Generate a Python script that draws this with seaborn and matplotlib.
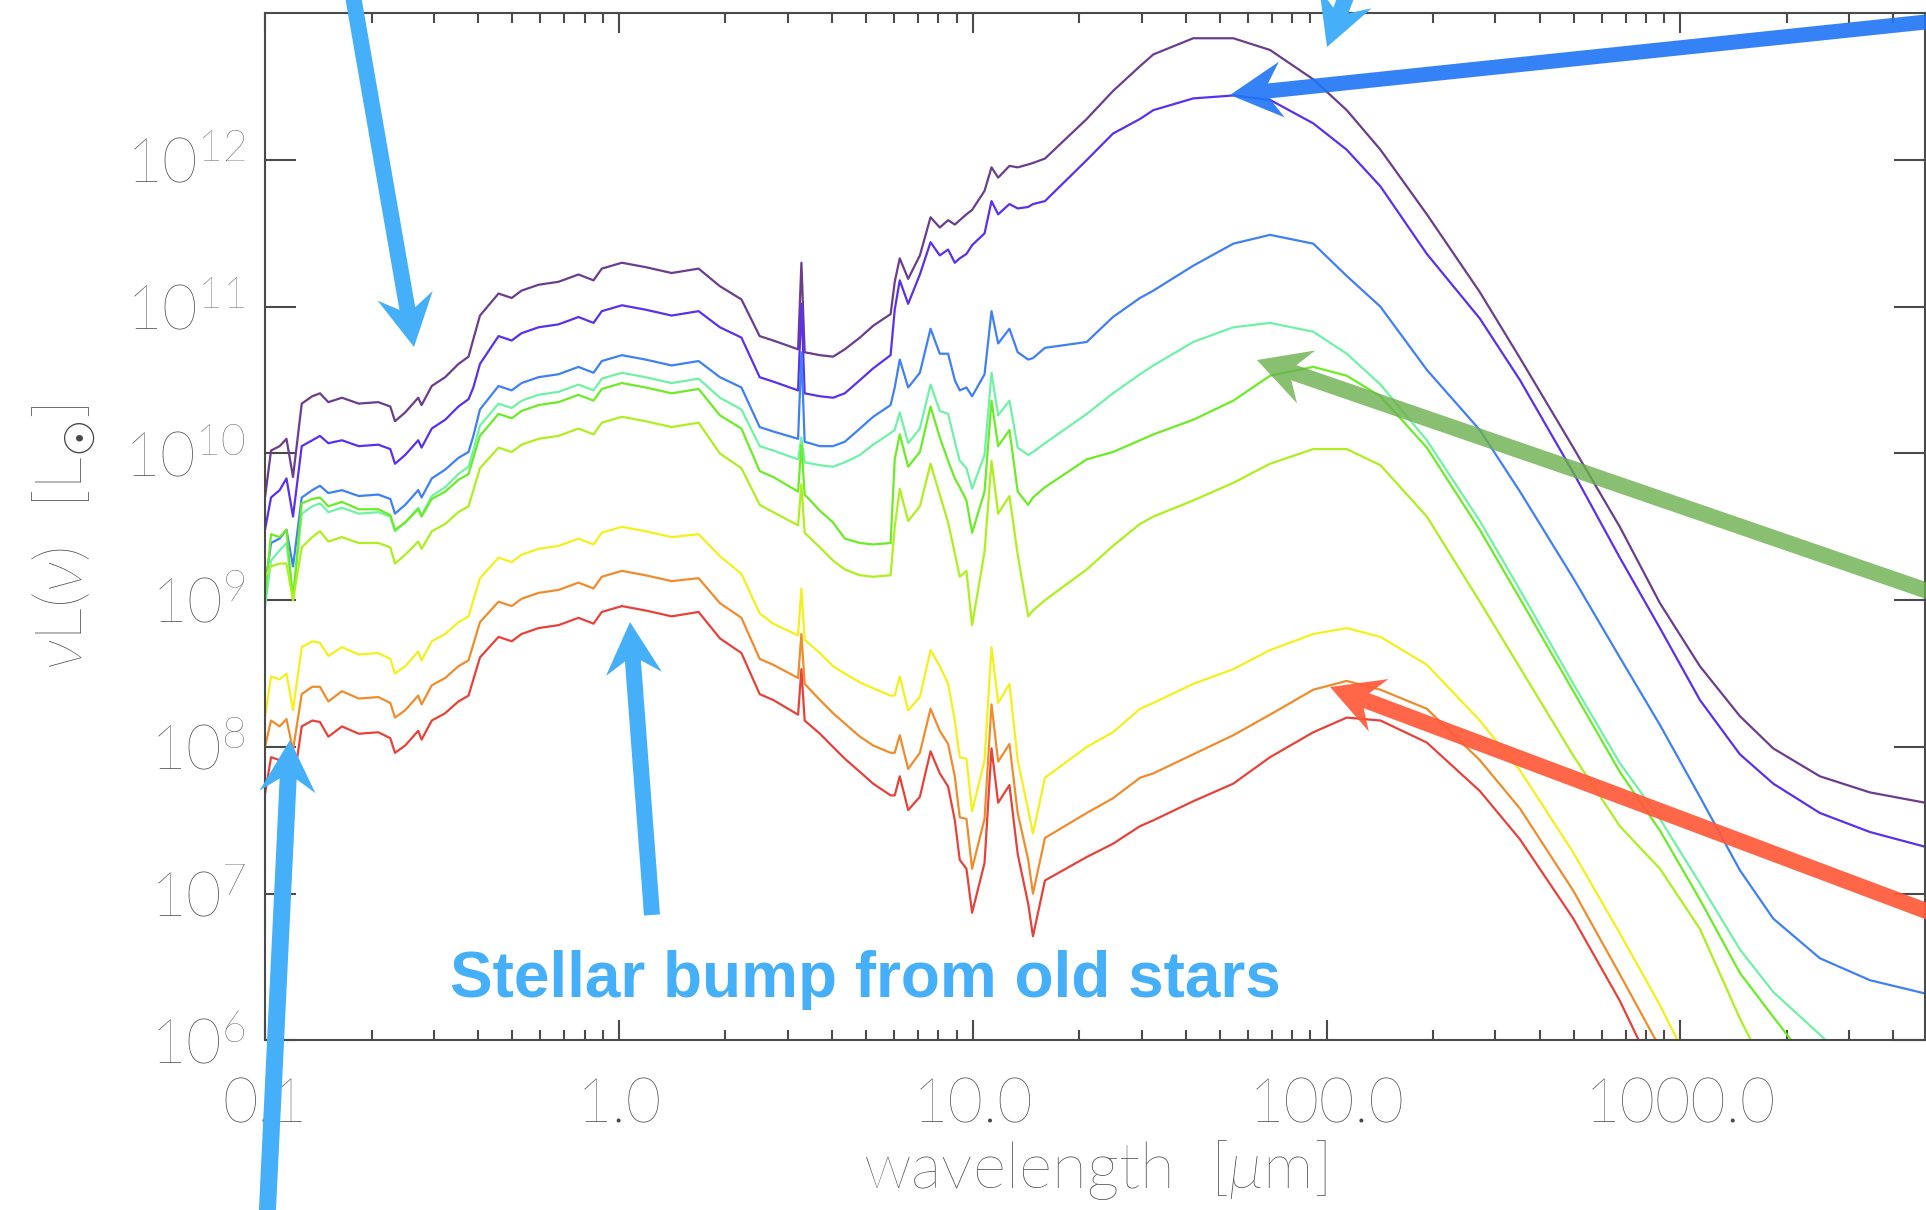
import matplotlib
matplotlib.use("Agg")
import matplotlib.pyplot as plt
import matplotlib.ticker as mticker
from matplotlib.patches import FancyArrow
from matplotlib.transforms import Affine2D
import numpy as np
import pandas as pd
import seaborn as sns

# ---------------------------------------------------------------- data
WAVELENGTH_UM = [
    0.100, 0.104, 0.110, 0.115, 0.120, 0.127, 0.136, 0.143, 0.151,
    0.165, 0.184, 0.209, 0.226, 0.233, 0.249, 0.271, 0.277, 0.296, 0.323,
    0.352, 0.376, 0.388, 0.405, 0.457, 0.498, 0.531, 0.593, 0.675, 0.769,
    0.848, 0.895, 1.02, 1.19, 1.41, 1.68,
    1.93, 2.22, 2.50, 2.73, 3.21, 3.28, 3.35, 3.70, 4.03, 4.35,
    4.80, 5.23, 5.86, 6.02, 6.22, 6.57, 7.09, 7.60, 8.07, 8.52,
    8.90, 9.19, 9.60, 9.96, 10.8, 11.3, 11.8, 12.7, 13.4, 14.35,
    14.8, 16.0, 21.0,
    24.9, 29.7, 32.4, 42.0, 54.5, 69.2, 91.7, 114, 142, 192,
    271, 352, 498, 674, 875, 1135, 1472, 1829, 2477, 3433, 4910,
]

# log10( nu L_nu / L_sun ) for each model SED
LOGL_PURPLE = [
    9.70, 10.02, 10.05, 10.10, 9.84, 10.34, 10.39, 10.41, 10.35,
    10.38, 10.34, 10.35, 10.32, 10.22, 10.28, 10.38, 10.33, 10.46, 10.52,
    10.61, 10.66, 10.78, 10.94, 11.09, 11.06, 11.11, 11.15, 11.17, 11.22,
    11.18, 11.26, 11.30, 11.27, 11.23, 11.26,
    11.14, 11.05, 10.80, 10.77, 10.71, 11.30, 10.69, 10.67, 10.66, 10.71,
    10.79, 10.87, 10.95, 11.17, 11.33, 11.19, 11.35, 11.61, 11.54, 11.59,
    11.56, 11.59, 11.63, 11.66, 11.79, 11.95, 11.88, 11.96, 11.95, 11.97,
    11.98, 12.01, 12.28,
    12.47, 12.64, 12.72, 12.83, 12.83, 12.75, 12.55, 12.34, 12.07, 11.63,
    11.10, 10.65, 10.04, 9.50, 8.98, 8.55, 8.21, 7.99, 7.80, 7.69, 7.62,
]
LOGL_VIOLET = [
    9.48, 9.70, 9.75, 9.83, 9.57, 10.05, 10.09, 10.12, 10.07,
    10.09, 10.05, 10.06, 10.03, 9.93, 9.99, 10.09, 10.04, 10.17, 10.23,
    10.32, 10.37, 10.45, 10.61, 10.80, 10.77, 10.82, 10.86, 10.88, 10.93,
    10.89, 10.97, 11.01, 10.98, 10.94, 10.97,
    10.86, 10.79, 10.52, 10.49, 10.43, 11.02, 10.41, 10.39, 10.38, 10.41,
    10.50, 10.58, 10.67, 10.98, 11.18, 11.02, 11.22, 11.44, 11.35, 11.39,
    11.30, 11.33, 11.36, 11.42, 11.50, 11.72, 11.63, 11.70, 11.67, 11.68,
    11.70, 11.72, 12.00,
    12.18, 12.28, 12.34, 12.42, 12.44, 12.41, 12.25, 12.07, 11.82, 11.36,
    10.92, 10.50, 9.87, 9.29, 8.81, 8.32, 7.95, 7.75, 7.55, 7.42, 7.32,
]
LOGL_BLUE = [
    9.09, 9.39, 9.42, 9.48, 9.23, 9.70, 9.75, 9.78, 9.73,
    9.75, 9.71, 9.72, 9.69, 9.59, 9.65, 9.75, 9.70, 9.83, 9.89,
    9.97, 10.01, 10.12, 10.30, 10.46, 10.43, 10.48, 10.52, 10.54, 10.59,
    10.55, 10.63, 10.67, 10.64, 10.60, 10.63,
    10.52, 10.45, 10.18, 10.15, 10.10, 10.69, 10.08, 10.05, 10.05, 10.08,
    10.17, 10.25, 10.33, 10.45, 10.64, 10.45, 10.55, 10.85, 10.68, 10.68,
    10.50, 10.43, 10.45, 10.39, 10.54, 10.97, 10.75, 10.85, 10.69, 10.64,
    10.65, 10.72, 10.76,
    10.93, 11.06, 11.11, 11.28, 11.43, 11.49, 11.43, 11.21, 11.00, 10.57,
    10.16, 9.74, 9.15, 8.61, 8.15, 7.66, 7.16, 6.83, 6.56, 6.41, 6.32,
]
LOGL_AQUA = [
    8.95, 9.27, 9.34, 9.39, 9.02, 9.59, 9.64, 9.66, 9.60,
    9.63, 9.59, 9.60, 9.57, 9.47, 9.53, 9.63, 9.58, 9.71, 9.77,
    9.86, 9.91, 10.02, 10.19, 10.34, 10.31, 10.36, 10.40, 10.42, 10.47,
    10.43, 10.51, 10.55, 10.52, 10.48, 10.51,
    10.38, 10.30, 10.05, 10.02, 9.96, 10.11, 9.94, 9.92, 9.91, 9.94,
    9.99, 10.06, 10.14, 10.16, 10.28, 10.07, 10.17, 10.47, 10.29, 10.27,
    10.08, 9.95, 9.90, 9.76, 9.99, 10.55, 10.26, 10.36, 10.04, 9.99,
    10.01, 10.07, 10.27,
    10.41, 10.54, 10.60, 10.76, 10.86, 10.89, 10.83, 10.68, 10.47, 10.09,
    9.54, 9.07, 8.43, 7.89, 7.51, 7.07, 6.62, 6.33, 6.04, 5.70, 5.40,
]
LOGL_GREEN = [
    9.02, 9.45, 9.43, 9.48, 9.00, 9.66, 9.69, 9.70, 9.64,
    9.67, 9.62, 9.62, 9.58, 9.48, 9.53, 9.62, 9.57, 9.69, 9.74,
    9.82, 9.86, 9.97, 10.12, 10.27, 10.24, 10.29, 10.33, 10.35, 10.40,
    10.36, 10.44, 10.48, 10.45, 10.41, 10.44,
    10.26, 10.17, 9.88, 9.84, 9.74, 10.06, 9.72, 9.61, 9.53, 9.42,
    9.39, 9.38, 9.39, 9.96, 10.13, 9.91, 10.01, 10.32, 10.11, 9.95,
    9.83, 9.77, 9.68, 9.46, 9.74, 10.36, 10.05, 10.16, 9.74, 9.65,
    9.70, 9.77, 9.96,
    10.01, 10.09, 10.13, 10.23, 10.36, 10.53, 10.59, 10.53, 10.39, 10.04,
    9.48, 9.01, 8.38, 7.83, 7.43, 6.96, 6.46, 6.16, 5.75, 5.40, 5.10,
]
LOGL_LIME = [
    9.16, 9.23, 9.25, 9.25, 9.00, 9.36, 9.43, 9.47, 9.40,
    9.43, 9.39, 9.39, 9.36, 9.25, 9.31, 9.40, 9.35, 9.47, 9.52,
    9.60, 9.64, 9.75, 9.90, 10.04, 10.01, 10.06, 10.10, 10.12, 10.17,
    10.13, 10.21, 10.25, 10.22, 10.18, 10.21,
    10.00, 9.90, 9.65, 9.60, 9.51, 9.79, 9.46, 9.36, 9.27, 9.21,
    9.17, 9.16, 9.17, 9.50, 9.76, 9.54, 9.64, 9.93, 9.72, 9.53,
    9.32, 9.16, 9.20, 8.83, 9.33, 9.95, 9.59, 9.71, 9.31, 8.89,
    8.93, 9.00, 9.21,
    9.37, 9.52, 9.57, 9.68, 9.80, 9.93, 10.03, 10.03, 9.92, 9.57,
    8.99, 8.54, 7.94, 7.46, 7.17, 6.76, 6.15, 5.70, 5.20, 4.80, 4.50,
]
LOGL_YELLOW = [
    8.20, 8.48, 8.46, 8.50, 8.25, 8.68, 8.72, 8.71, 8.62,
    8.68, 8.63, 8.64, 8.60, 8.50, 8.55, 8.65, 8.59, 8.72, 8.77,
    8.85, 8.89, 9.00, 9.15, 9.29, 9.26, 9.31, 9.35, 9.37, 9.42,
    9.38, 9.46, 9.50, 9.47, 9.43, 9.45,
    9.30, 9.18, 8.91, 8.84, 8.76, 9.08, 8.73, 8.64, 8.55, 8.50,
    8.44, 8.40, 8.35, 8.35, 8.48, 8.25, 8.34, 8.66, 8.55, 8.43,
    8.18, 7.93, 7.92, 7.56, 7.91, 8.68, 8.30, 8.43, 7.91, 7.57,
    7.41, 7.79, 8.00,
    8.10, 8.26, 8.30, 8.43, 8.53, 8.66, 8.77, 8.81, 8.75, 8.56,
    8.18, 7.84, 7.28, 6.73, 6.24, 5.70, 5.20, 4.90, 4.50, 4.20, 4.00,
]
LOGL_ORANGE = [
    8.00, 8.18, 8.14, 8.19, 7.98, 8.36, 8.41, 8.41, 8.31,
    8.38, 8.33, 8.34, 8.30, 8.20, 8.25, 8.35, 8.29, 8.42, 8.47,
    8.55, 8.59, 8.70, 8.85, 8.99, 8.96, 9.01, 9.05, 9.07, 9.12,
    9.08, 9.16, 9.20, 9.17, 9.13, 9.15,
    8.98, 8.88, 8.60, 8.56, 8.47, 8.77, 8.43, 8.32, 8.23, 8.16,
    8.07, 8.01, 7.96, 7.96, 8.08, 7.85, 7.96, 8.26, 8.11, 8.02,
    7.80, 7.52, 7.51, 7.17, 7.51, 8.29, 7.90, 8.02, 7.55, 7.23,
    7.00, 7.38, 7.55,
    7.65, 7.79, 7.82, 7.95, 8.08, 8.22, 8.39, 8.45, 8.39, 8.26,
    7.91, 7.58, 7.02, 6.45, 5.95, 5.50, 5.10, 4.80, 4.40, 4.10, 3.90,
]
LOGL_RED = [
    7.68, 7.93, 7.91, 7.94, 7.73, 8.14, 8.18, 8.17, 8.07,
    8.14, 8.09, 8.10, 8.06, 7.96, 8.01, 8.11, 8.05, 8.18, 8.23,
    8.31, 8.35, 8.46, 8.61, 8.75, 8.72, 8.77, 8.81, 8.83, 8.88,
    8.84, 8.92, 8.96, 8.93, 8.89, 8.92,
    8.74, 8.64, 8.36, 8.32, 8.22, 8.53, 8.18, 8.09, 8.00, 7.92,
    7.83, 7.75, 7.67, 7.67, 7.80, 7.57, 7.66, 7.97, 7.82, 7.73,
    7.50, 7.23, 7.17, 6.87, 7.21, 7.99, 7.62, 7.74, 7.27, 6.93,
    6.71, 7.09, 7.25,
    7.34, 7.46, 7.50, 7.63, 7.75, 7.93, 8.10, 8.20, 8.18, 8.03,
    7.70, 7.37, 6.83, 6.27, 5.70, 5.30, 4.90, 4.60, 4.30, 4.00, 3.80,
]

MODEL_NAMES = ["m1", "m2", "m3", "m4", "m5", "m6", "m7", "m8", "m9"]
MODEL_COLORS = ["#6b3d8e", "#5a30ec", "#3f80f4", "#70f2a6", "#6cec26",
                "#aef01e", "#f4f01c", "#ef8c2c", "#e6423a"]

X_TICKS = [0.1, 1.0, 10.0, 100.0, 1000.0]
X_TICK_LABELS = ["0.1", "1.0", "10.0", "100.0", "1000.0"]
Y_TICKS = [1e6, 1e7, 1e8, 1e9, 1e10, 1e11, 1e12]
Y_TICK_LABELS = [r"$10^{6}$", r"$10^{7}$", r"$10^{8}$", r"$10^{9}$",
                 r"$10^{10}$", r"$10^{11}$", r"$10^{12}$"]

# ---------------------------------------------------------------- style
sns.set_theme(style="ticks")
plt.rcParams["font.family"] = ["Lato", "DejaVu Sans"]
plt.rcParams["font.weight"] = "light"
plt.rcParams["axes.labelweight"] = "light"
plt.rcParams["mathtext.fontset"] = "custom"
plt.rcParams["mathtext.rm"] = "Lato:light"
plt.rcParams["mathtext.it"] = "Lato:italic:light"
plt.rcParams["mathtext.sf"] = "Lato:light"

GREY_TEXT = "#464646"
GREY_AXIS = "#4a4a4a"

W, H, DPI = 1926, 1210, 100
fig = plt.figure(figsize=(W / DPI, H / DPI), dpi=DPI, facecolor="white")
ax = fig.add_axes([265 / W, 1 - 1040.4 / H, (1925 - 265) / W, (1040.4 - 13.3) / H])
ax.set_xscale("log")
ax.set_yscale("log")

series = [LOGL_PURPLE, LOGL_VIOLET, LOGL_BLUE, LOGL_AQUA, LOGL_GREEN,
          LOGL_LIME, LOGL_YELLOW, LOGL_ORANGE, LOGL_RED]
frames = []
for name, logl in zip(MODEL_NAMES, series):
    frames.append(pd.DataFrame({
        "wavelength": WAVELENGTH_UM,
        "nuLnu": np.power(10.0, np.asarray(logl)),
        "model": name,
    }))
df = pd.concat(frames, ignore_index=True)

sns.lineplot(data=df, x="wavelength", y="nuLnu", hue="model",
             hue_order=MODEL_NAMES, palette=MODEL_COLORS, sort=False,
             estimator=None, linewidth=1.6, legend=False, ax=ax)

ax.set_xlim(0.1, 4910)
ax.set_ylim(1e6, 1e13)

# axes frame and ticks
for side in ["left", "right", "top", "bottom"]:
    ax.spines[side].set_visible(True)
    ax.spines[side].set_color(GREY_AXIS)
    ax.spines[side].set_linewidth(1.5)

ax.xaxis.set_major_locator(mticker.FixedLocator(X_TICKS))
ax.xaxis.set_major_formatter(mticker.FixedFormatter(X_TICK_LABELS))
ax.xaxis.set_minor_locator(mticker.LogLocator(base=10, subs=np.arange(2, 10), numticks=20))
ax.xaxis.set_minor_formatter(mticker.NullFormatter())
ax.yaxis.set_major_locator(mticker.FixedLocator(Y_TICKS))
ax.yaxis.set_major_formatter(mticker.FixedFormatter(Y_TICK_LABELS))
ax.yaxis.set_minor_locator(mticker.NullLocator())

ax.tick_params(axis="x", which="both", direction="in", top=True, bottom=True,
               color=GREY_AXIS, width=1.5)
ax.tick_params(axis="x", which="major", length=14.5, pad=27,
               labelsize=44, labelcolor=GREY_TEXT)
ax.tick_params(axis="x", which="minor", length=7.2)
ax.tick_params(axis="y", which="major", direction="in", left=True, right=True,
               color=GREY_AXIS, width=1.5, length=22.5, pad=14,
               labelsize=44, labelcolor=GREY_TEXT)

ax.set_xlabel(r"wavelength  [$\mu$m]", fontsize=46, color=GREY_TEXT,
              fontweight="light")
ax.xaxis.set_label_coords(0.5, -0.095)
ax.set_ylabel(r"$\nu$L$(\nu)$  [L$_{\odot}$]", fontsize=47, color=GREY_TEXT,
              fontweight="light")
ax.yaxis.set_label_coords(-0.100, 0.49)

# ---------------------------------------------------------------- annotations
# pixel coordinates measured from the top-left corner of the canvas
to_px = Affine2D().scale(1, -1).translate(0, H)

def draw_arrow(tail, tip, color, shaft=16, head_w=56, head_l=52, alpha=1.0):
    arrow = FancyArrow(tail[0], tail[1], tip[0] - tail[0], tip[1] - tail[1],
                       width=shaft, head_width=head_w, head_length=head_l,
                       length_includes_head=True, overhang=0.25,
                       facecolor=color, edgecolor="none", alpha=alpha,
                       transform=to_px, zorder=10)
    fig.add_artist(arrow)

LIGHT_BLUE = "#45b0f9"
draw_arrow((352, -10), (414, 347), LIGHT_BLUE, shaft=16)
draw_arrow((1360, -40), (1327, 47), LIGHT_BLUE, shaft=16)
draw_arrow((1945, 20), (1230, 95), "#1f74f7", shaft=15, alpha=0.9)
draw_arrow((1945, 597), (1257, 360), "#6ab04c", shaft=16, alpha=0.8)
draw_arrow((1945, 918), (1330, 687), "#ff5a38", shaft=16, alpha=0.92)
draw_arrow((266, 1240), (290, 740), LIGHT_BLUE, shaft=17)
draw_arrow((652, 915), (630, 622), LIGHT_BLUE, shaft=16)

fig.text(865 / W, 1 - 997 / H, "Stellar bump from old stars",
         ha="center", va="baseline", fontsize=46, fontweight="bold",
         family=["Liberation Sans", "DejaVu Sans"], color=LIGHT_BLUE)

fig.savefig("out.png", dpi=DPI, facecolor="white")
